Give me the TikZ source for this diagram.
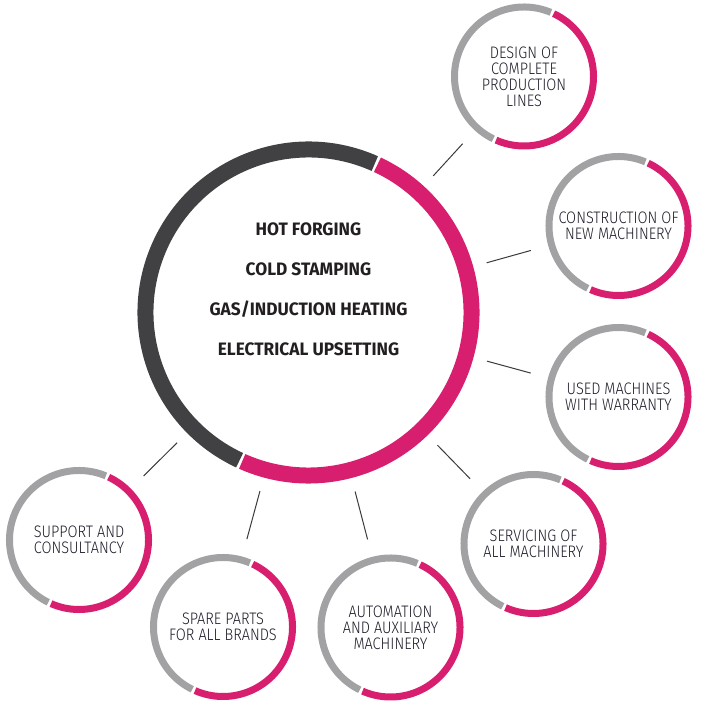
\documentclass[tikz,border=0pt]{standalone}
\usepackage{fontspec}
\newfontfamily\corefont{Fira Sans}[FakeStretch=0.96]
\newfontfamily\ringfont{Fira Sans Light}[FakeStretch=0.87]

\definecolor{rosso}{HTML}{D81E6E}
\definecolor{hubgray}{HTML}{414042}
\definecolor{ringgray}{HTML}{A2A2A5}
\definecolor{spokegray}{HTML}{3A3A3A}
\definecolor{coretext}{HTML}{231F20}
\definecolor{labeltext}{HTML}{1C1C28}

\tikzset{every picture/.style={line width=0.75pt}}
\tikzset{
  hub/.style={circle, minimum size=256.5pt, inner sep=0pt, outer sep=0pt},
  hubtext/.style={align=center, text=coretext, font=\corefont\bfseries\fontsize{13.5}{30}\selectfont},
  bubble/.style={circle, minimum size=109.5pt, inner sep=0pt, outer sep=0pt, align=center, text=labeltext, font=\ringfont\fontsize{12.5}{12}\selectfont},
  hubdark/.style={draw=hubgray, line width=12pt},
  hubpink/.style={draw=rosso, line width=12pt},
  ringdark/.style={draw=ringgray, line width=5.25pt},
  ringpink/.style={draw=rosso, line width=5.25pt},
  spoke/.style={draw=spokegray, line width=0.75pt, shorten <=10.5pt, shorten >=13.5pt}
}

\begin{document}
\begin{tikzpicture}[x=0.75pt,y=0.75pt,yscale=-1,xscale=1]
\useasboundingbox (0,0) rectangle (718,705);

%Shape: Circle [id:core]
\node [hub] (core) at (308.5,312.5) {};
\draw [hubpink] (core.center) ++(-65:163) arc [start angle=-65, end angle=114, radius=163];
\draw [hubdark] (core.center) ++(115:163) arc [start angle=115, end angle=294, radius=163];

% Text Node
\node [hubtext] (processes) at (308.5,289.5) {HOT FORGING\\COLD STAMPING\\GAS/INDUCTION HEATING\\ELECTRICAL UPSETTING};

%Shape: Circle [id:design]
\node [bubble] (design) at (524,76.5) {DESIGN OF\\COMPLETE\\PRODUCTION\\LINES};
\draw [ringpink] (design.center) ++(-64.75:69.5) arc [start angle=-64.75, end angle=113.75, radius=69.5];
\draw [ringdark] (design.center) ++(116.25:69.5) arc [start angle=116.25, end angle=292.75, radius=69.5];

%Shape: Circle [id:construction]
\node [bubble] (construction) at (618.5,226) {CONSTRUCTION OF\\NEW MACHINERY};
\draw [ringpink] (construction.center) ++(-64.75:69.5) arc [start angle=-64.75, end angle=113.75, radius=69.5];
\draw [ringdark] (construction.center) ++(116.25:69.5) arc [start angle=116.25, end angle=292.75, radius=69.5];

%Shape: Circle [id:used]
\node [bubble] (used) at (618.5,397) {USED MACHINES\\WITH WARRANTY};
\draw [ringpink] (used.center) ++(-64.75:69.5) arc [start angle=-64.75, end angle=113.75, radius=69.5];
\draw [ringdark] (used.center) ++(116.25:69.5) arc [start angle=116.25, end angle=292.75, radius=69.5];

%Shape: Circle [id:servicing]
\node [bubble] (servicing) at (533.5,544) {SERVICING OF\\ALL MACHINERY};
\draw [ringpink] (servicing.center) ++(-64.75:69.5) arc [start angle=-64.75, end angle=113.75, radius=69.5];
\draw [ringdark] (servicing.center) ++(116.25:69.5) arc [start angle=116.25, end angle=292.75, radius=69.5];

%Shape: Circle [id:automation]
\node [bubble] (automation) at (390.5,627.5) {AUTOMATION\\AND AUXILIARY\\MACHINERY};
\draw [ringpink] (automation.center) ++(-64.75:69.5) arc [start angle=-64.75, end angle=113.75, radius=69.5];
\draw [ringdark] (automation.center) ++(116.25:69.5) arc [start angle=116.25, end angle=292.75, radius=69.5];

%Shape: Circle [id:spare]
\node [bubble] (spare) at (223,627) {SPARE PARTS\\FOR ALL BRANDS};
\draw [ringpink] (spare.center) ++(-64.75:69.5) arc [start angle=-64.75, end angle=113.75, radius=69.5];
\draw [ringdark] (spare.center) ++(116.25:69.5) arc [start angle=116.25, end angle=292.75, radius=69.5];

%Shape: Circle [id:support]
\node [bubble] (support) at (79,540) {SUPPORT AND\\CONSULTANCY};
\draw [ringpink] (support.center) ++(-64.75:69.5) arc [start angle=-64.75, end angle=113.75, radius=69.5];
\draw [ringdark] (support.center) ++(116.25:69.5) arc [start angle=116.25, end angle=292.75, radius=69.5];

%Straight Lines
\draw [spoke] (core) -- (design);
\draw [spoke] (core) -- (construction);
\draw [spoke] (core) -- (used);
\draw [spoke] (core) -- (servicing);
\draw [spoke] (core) -- (automation);
\draw [spoke] (core) -- (spare);
\draw [spoke] (core) -- (support);

\end{tikzpicture}
\end{document}
